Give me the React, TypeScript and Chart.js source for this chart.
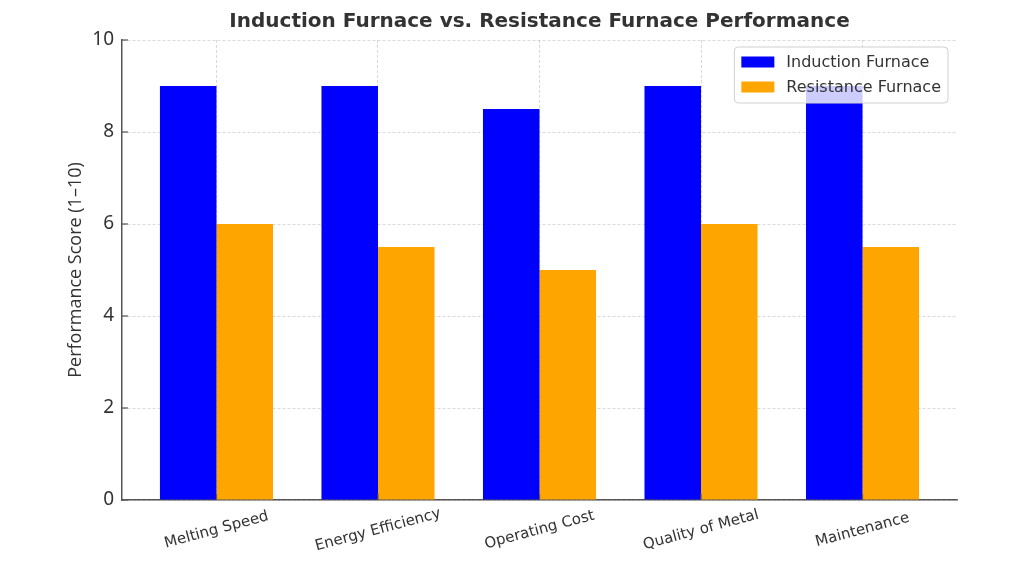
import React, { useEffect, useRef } from "react";
import { Chart, registerables } from "chart.js";

Chart.register(...registerables);

const TITLE = "Induction Furnace vs. Resistance Furnace Performance";
const Y_TITLE = "Performance Score (1–10)";
const categories = ["Melting Speed", "Energy Efficiency", "Operating Cost", "Quality of Metal", "Maintenance"];
const seriesNames = ["Induction Furnace", "Resistance Furnace"];
const inductionValues = [9, 9, 8.5, 9, 9];
const resistanceValues = [6, 5.5, 5, 6, 5.5];
const yTicks = [0, 2, 4, 6, 8, 10];
const seriesColors = ["#0000ff", "#ffa500"];

const TEXT = "#333333";
const AXIS = "#555555";

const decorPlugin = {
  id: "decor",
  beforeDraw(chart: any) {
    const ctx = chart.ctx;
    ctx.save();
    ctx.fillStyle = "#ffffff";
    ctx.fillRect(0, 0, chart.width, chart.height);
    ctx.restore();
  },
  afterDraw(chart: any) {
    const ctx = chart.ctx;
    const area = chart.chartArea;
    const xs = chart.scales.x;
    const ys = chart.scales.y;
    ctx.save();
    // inward tick marks
    ctx.strokeStyle = AXIS;
    ctx.lineWidth = 1.2;
    yTicks.forEach((v) => {
      const py = ys.getPixelForValue(v);
      ctx.beginPath();
      ctx.moveTo(area.left, py);
      ctx.lineTo(area.left + 6, py);
      ctx.stroke();
    });
    categories.forEach((_, i) => {
      const px = xs.getPixelForValue(i);
      ctx.beginPath();
      ctx.moveTo(px, area.bottom);
      ctx.lineTo(px, area.bottom - 6);
      ctx.stroke();
    });
    // x labels rotated 15deg, centred on tick
    ctx.fillStyle = TEXT;
    ctx.font = "15px 'DejaVu Sans'";
    ctx.textAlign = "center";
    ctx.textBaseline = "middle";
    categories.forEach((c, i) => {
      const px = xs.getPixelForValue(i);
      ctx.save();
      ctx.translate(px, area.bottom + 30);
      ctx.rotate((-15 * Math.PI) / 180);
      ctx.fillText(c, 0, 0);
      ctx.restore();
    });
    // y title
    ctx.save();
    ctx.font = "18px 'Open Sans'";
    ctx.translate(76, (area.top + area.bottom) / 2);
    ctx.rotate(-Math.PI / 2);
    ctx.fillText(Y_TITLE, 0, 0);
    ctx.restore();
    // title
    ctx.font = "bold 20px 'DejaVu Sans'";
    ctx.fillText(TITLE, (area.left + area.right) / 2, 22);
    // legend
    ctx.font = "16px 'DejaVu Sans'";
    const pad = 7;
    const sw = 33;
    const sh = 11;
    const gap = 12;
    const rowH = 25;
    const tw = Math.max(...seriesNames.map((n) => ctx.measureText(n).width));
    const bw = pad + sw + gap + tw + pad;
    const bh = 56;
    const bx = area.right - 9 - bw;
    const by = area.top + 7;
    ctx.beginPath();
    ctx.roundRect(bx, by, bw, bh, 4);
    ctx.fillStyle = "rgba(255,255,255,0.8)";
    ctx.fill();
    ctx.strokeStyle = "#d0d0d0";
    ctx.lineWidth = 1;
    ctx.stroke();
    seriesNames.forEach((n, i) => {
      const cy = by + 15 + i * rowH;
      ctx.fillStyle = seriesColors[i];
      ctx.fillRect(bx + pad, cy - sh / 2, sw, sh);
      ctx.fillStyle = TEXT;
      ctx.textAlign = "left";
      ctx.fillText(n, bx + pad + sw + gap, cy + 1);
    });
    ctx.restore();
  },
};

export default function App() {
  const ref = useRef<HTMLCanvasElement | null>(null);
  useEffect(() => {
    document.body.style.margin = "0";
    if (!ref.current) return;
    const gridColor = "rgba(170,170,170,0.55)";
    const chart = new Chart(ref.current, {
      type: "bar",
      data: {
        datasets: [
          {
            label: seriesNames[0],
            data: categories.map((_, i) => ({ x: i, y: inductionValues[i] })),
            backgroundColor: seriesColors[0],
            borderWidth: 0,
          },
          {
            label: seriesNames[1],
            data: categories.map((_, i) => ({ x: i, y: resistanceValues[i] })),
            backgroundColor: seriesColors[1],
            borderWidth: 0,
          },
        ],
      },
      options: {
        animation: false,
        responsive: true,
        maintainAspectRatio: false,
        layout: { padding: { top: 40, right: 67, left: 0, bottom: 0 } },
        datasets: { bar: { barPercentage: 1, categoryPercentage: 0.7 } },
        plugins: { legend: { display: false }, title: { display: false }, tooltip: { enabled: false } },
        scales: {
          x: {
            type: "linear",
            min: -0.585,
            max: 4.585,
            offset: false,
            z: 1,
            afterBuildTicks: (s: any) => {
              s.ticks = categories.map((_, i) => ({ value: i }));
            },
            afterFit: (s: any) => {
              s.height = 76;
            },
            ticks: { display: false },
            grid: { offset: false, color: gridColor, lineWidth: 0.8, drawTicks: false },
            border: { display: true, color: AXIS, width: 1.5, dash: [3, 2] },
          },
          y: {
            min: 0,
            max: 10,
            z: 1,
            afterBuildTicks: (s: any) => {
              s.ticks = yTicks.map((v) => ({ value: v }));
            },
            afterFit: (s: any) => {
              s.width = 122;
            },
            ticks: {
              padding: 8,
              color: TEXT,
              font: { family: "'Noto Sans'", size: 19 },
            },
            grid: { color: gridColor, lineWidth: 0.8, drawTicks: false },
            border: { display: true, color: AXIS, width: 1.5, dash: [3, 2] },
          },
        },
      },
      plugins: [decorPlugin],
    } as any);
    return () => chart.destroy();
  }, []);
  return (
    <div style={{ width: 1024, height: 576, position: "relative" }}>
      <canvas ref={ref} />
    </div>
  );
}
